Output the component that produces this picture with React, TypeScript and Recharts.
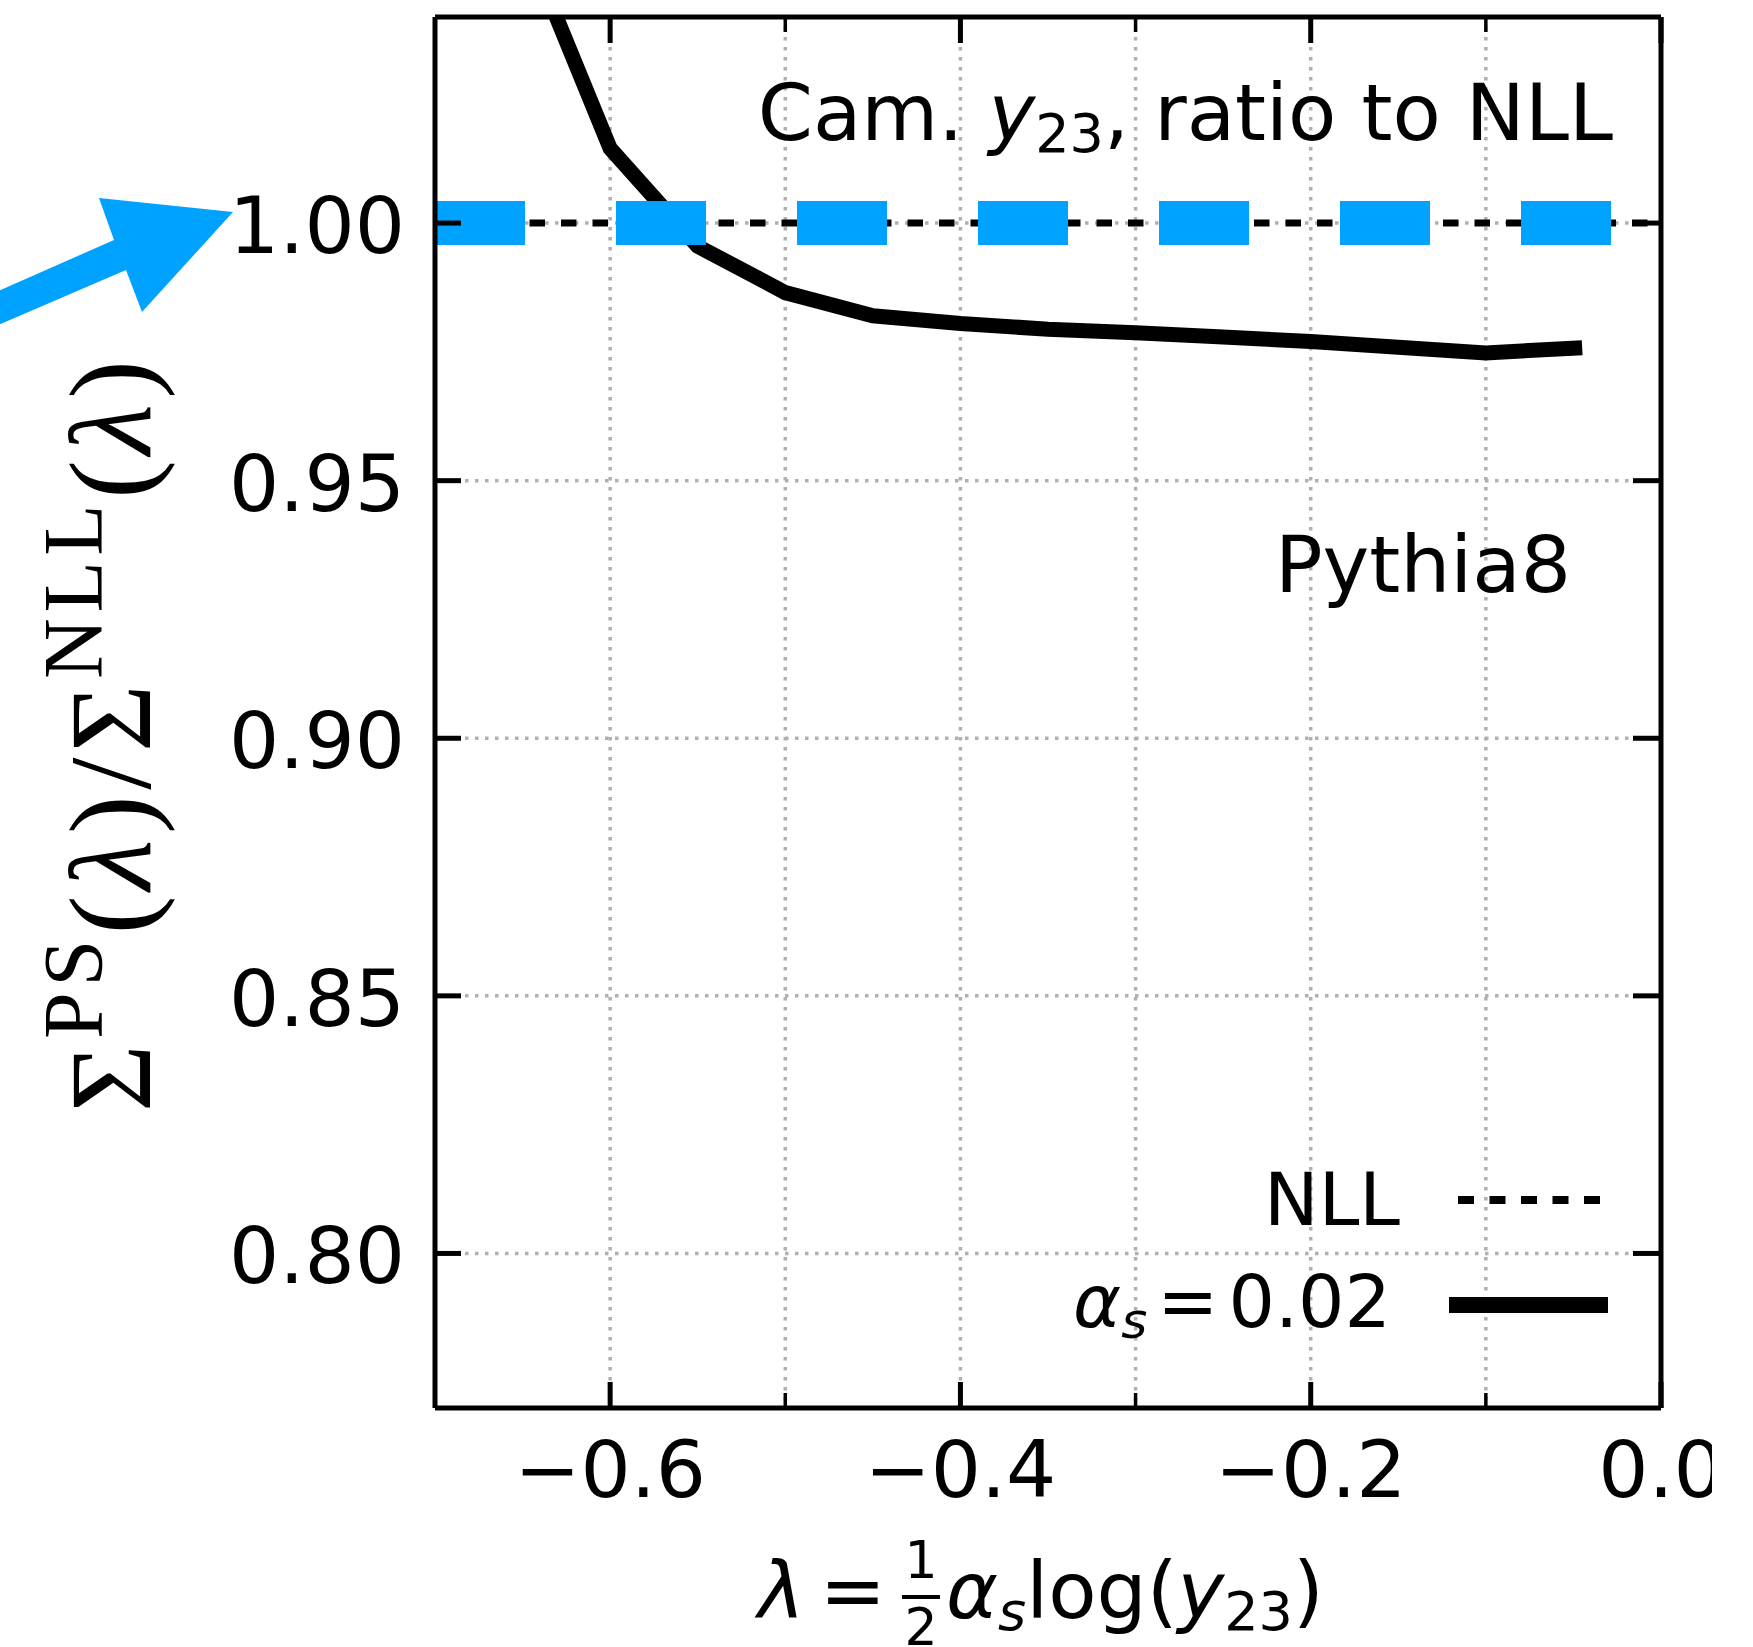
import { LineChart, Line, XAxis, YAxis, CartesianGrid, Customized } from "recharts";

// λ values and Pythia8 / NLL ratio
const lambdaPS = [-0.65, -0.6, -0.55, -0.5, -0.45, -0.4, -0.35, -0.3, -0.25, -0.2, -0.15, -0.1, -0.045];
const ratioPS = [1.056, 1.0145, 0.9955, 0.9865, 0.982, 0.9805, 0.9794, 0.9787, 0.9779, 0.977, 0.9759, 0.9748, 0.9758];

// NLL reference (ratio 1 across the full range)
const lambdaNLL = [-0.7, 0];
const ratioNLL = [1, 1];

const xTicks = [-0.6, -0.5, -0.4, -0.3, -0.2, -0.1, 0];
const yTicks = [0.8, 0.85, 0.9, 0.95, 1.0];

const psData = lambdaPS.map((lam, i) => ({ lam, ratio: ratioPS[i] }));
const nllData = lambdaNLL.map((lam, i) => ({ lam, ratio: ratioNLL[i] }));

const W = 1712;
const H = 1647;
const SANS = "'DejaVu Sans', sans-serif";
const BLUE = "#00A2FF";
const FS = 79;
const LEG_FS = 73;

const isMajorX = (v: number) => Math.abs(Math.round(v * 10)) % 2 === 0;
const fmtX = (v: number) => (v === 0 ? "0.0" : (v < 0 ? "\u2212" : "") + Math.abs(v).toFixed(1));

const BottomTick = ({ x, y, payload }: any) => {
  const major = isMajorX(payload.value);
  return (
    <g>
      <line x1={x} x2={x} y1={y} y2={y - (major ? 26 : 15)} stroke="#000" strokeWidth={major ? 5 : 3.5} />
      {major && (
        <text x={x} y={y + 89} textAnchor="middle" fontFamily={SANS} fontSize={FS} fill="#000">
          {fmtX(payload.value)}
        </text>
      )}
    </g>
  );
};

const TopTick = ({ x, y, payload }: any) => {
  const major = isMajorX(payload.value);
  return <line x1={x} x2={x} y1={y} y2={y + (major ? 26 : 15)} stroke="#000" strokeWidth={major ? 5 : 3.5} />;
};

const LeftTick = ({ x, y, payload }: any) => (
  <g>
    <line x1={x} x2={x + 26} y1={y} y2={y} stroke="#000" strokeWidth={5} />
    <text x={x - 30} y={y + 30} textAnchor="end" fontFamily={SANS} fontSize={FS} fill="#000">
      {payload.value.toFixed(2)}
    </text>
  </g>
);

const RightTick = ({ x, y }: any) => <line x1={x} x2={x - 28} y1={y} y2={y} stroke="#000" strokeWidth={5} />;

const Annotations = () => (
  <g fontFamily={SANS} fill="#000">
    {/* arrow pointing at 1.00 */}
    <polygon points="-20,299 114,240 99,198 233,212 142,312 126,270 -20,333" fill={BLUE} />

    <text x={1613} y={140} textAnchor="end" fontSize={FS}>
      Cam. <tspan fontStyle="italic">y</tspan>
      <tspan fontSize={54} dy={12}>23</tspan>
      <tspan dy={-12}>, ratio to NLL</tspan>
    </text>
    <text x={1571} y={592} textAnchor="end" fontSize={FS}>
      Pythia8
    </text>

    {/* legend */}
    <text x={1400} y={1225} textAnchor="end" fontSize={LEG_FS}>
      NLL
    </text>
    <line x1={1458} x2={1600} y1={1200} y2={1200} stroke="#000" strokeWidth={8} strokeDasharray="16 15.5" />
    <text x={1391} y={1327} textAnchor="end" fontSize={LEG_FS}>
      <tspan fontStyle="italic">α</tspan>
      <tspan fontStyle="italic" fontSize={50} dy={11}>s</tspan>
      <tspan dy={-11} dx={10}>=</tspan>
      <tspan dx={10}>0.02</tspan>
    </text>
    <line x1={1449} x2={1608} y1={1305} y2={1305} stroke="#000" strokeWidth={16} />

    {/* x axis label */}
    <text x={758} y={1618} fontSize={FS}>
      <tspan fontStyle="italic">λ</tspan>
      <tspan dx={15}>=</tspan>
    </text>
    <text x={921} y={1578} textAnchor="middle" fontSize={52}>1</text>
    <line x1={902} x2={940} y1={1597} y2={1597} stroke="#000" strokeWidth={4} />
    <text x={921} y={1645} textAnchor="middle" fontSize={52}>2</text>
    <text x={946} y={1618} fontSize={FS}>
      <tspan fontStyle="italic">α</tspan>
      <tspan fontStyle="italic" fontSize={54} dy={12}>s</tspan>
      <tspan dy={-12}>log(</tspan>
      <tspan fontStyle="italic">y</tspan>
      <tspan fontSize={54} dy={12}>23</tspan>
      <tspan dy={-12}>)</tspan>
    </text>

    {/* y axis label */}
    <text
      transform="translate(150,1112) rotate(-90)"
      fontFamily="'Liberation Serif', serif"
      fontSize={116}
      textLength={752}
      lengthAdjust="spacing"
    >
      <tspan>Σ</tspan>
      <tspan fontSize={84} dy={-48}>PS</tspan>
      <tspan dy={48}>(</tspan>
      <tspan fontStyle="italic">λ</tspan>
      <tspan>)/Σ</tspan>
      <tspan fontSize={84} dy={-48}>NLL</tspan>
      <tspan dy={48}>(</tspan>
      <tspan fontStyle="italic">λ</tspan>
      <tspan>)</tspan>
    </text>
  </g>
);

const axisLine = { stroke: "#000", strokeWidth: 5 };

export default function App() {
  return (
    <div style={{ position: "absolute", left: 0, top: 0, width: W, height: H, background: "#fff", overflow: "hidden" }}>
      <LineChart width={W} height={H} margin={{ top: 16, right: 50, bottom: 238, left: 434 }}>
        <CartesianGrid stroke="#b0b0b0" strokeWidth={3.5} strokeDasharray="3.5 6.5" />
        <XAxis
          dataKey="lam"
          type="number"
          domain={[-0.7, 0]}
          ticks={xTicks}
          interval={0}
          allowDataOverflow
          height={1}
          tickSize={0}
          tickMargin={0}
          tickLine={false}
          axisLine={axisLine}
          tick={<BottomTick />}
        />
        <XAxis
          xAxisId="top"
          orientation="top"
          dataKey="lam"
          type="number"
          domain={[-0.7, 0]}
          ticks={xTicks}
          interval={0}
          allowDataOverflow
          height={1}
          tickSize={0}
          tickMargin={0}
          tickLine={false}
          axisLine={axisLine}
          tick={<TopTick />}
        />
        <YAxis
          type="number"
          domain={[0.77, 1.04]}
          ticks={yTicks}
          interval={0}
          allowDataOverflow
          width={1}
          tickSize={0}
          tickMargin={0}
          tickLine={false}
          axisLine={axisLine}
          tick={<LeftTick />}
        />
        <YAxis
          yAxisId="right"
          orientation="right"
          type="number"
          domain={[0.77, 1.04]}
          ticks={yTicks}
          interval={0}
          allowDataOverflow
          width={1}
          tickSize={0}
          tickMargin={0}
          tickLine={false}
          axisLine={axisLine}
          tick={<RightTick />}
        />
        <Line
          data={nllData}
          dataKey="ratio"
          stroke="#000"
          strokeWidth={7}
          strokeDasharray="15.5 16"
          dot={false}
          activeDot={false}
          isAnimationActive={false}
        />
        <Line
          data={psData}
          dataKey="ratio"
          stroke="#000"
          strokeWidth={15}
          dot={false}
          activeDot={false}
          isAnimationActive={false}
        />
        <Line
          data={nllData}
          dataKey="ratio"
          stroke={BLUE}
          strokeWidth={44}
          strokeDasharray="90 91"
          dot={false}
          activeDot={false}
          isAnimationActive={false}
        />
        <Customized component={Annotations} />
      </LineChart>
    </div>
  );
}
